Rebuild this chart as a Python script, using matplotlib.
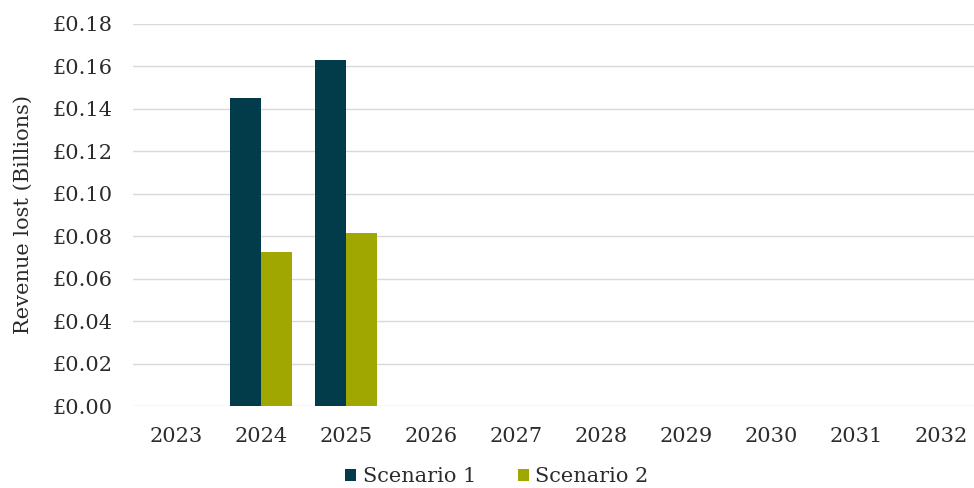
import matplotlib
matplotlib.use("Agg")
import matplotlib.pyplot as plt
import numpy as np

years = ["2023", "2024", "2025", "2026", "2027", "2028", "2029", "2030", "2031", "2032"]
scenario1 = [0, 0.145, 0.163, 0, 0, 0, 0, 0, 0, 0]
scenario2 = [0, 0.0725, 0.0815, 0, 0, 0, 0, 0, 0, 0]
yticks = [0.00, 0.02, 0.04, 0.06, 0.08, 0.10, 0.12, 0.14, 0.16, 0.18]

plt.rcParams['font.family'] = ['DejaVu Serif']
fig = plt.figure(figsize=(9.74, 4.88), dpi=100)
ax = fig.add_axes([0.137, 0.168, 0.873, 0.783])

x = np.arange(len(years))
w = 0.365
c1 = "#023B4A"
c2 = "#9FA700"
ax.bar(x - w/2, scenario1, w, color=c1, label="Scenario 1", zorder=3)
ax.bar(x + w/2, scenario2, w, color=c2, label="Scenario 2", zorder=3)

tc = "#2b2b2b"
ax.set_xlim(-0.5, len(years) - 0.5)
ax.set_ylim(0, 0.18)
ax.set_yticks(yticks)
ax.set_yticklabels([f"£{v:.2f}" for v in yticks], fontsize=15, color=tc)
ax.set_xticks(x)
ax.set_xticklabels(years, fontsize=15, color=tc)
ax.tick_params(axis='x', length=0, pad=15)
ax.tick_params(axis='y', length=0, pad=15)
ax.yaxis.grid(True, color="#d9d9d9", linewidth=1, zorder=0)
ax.set_axisbelow(True)
for s in ax.spines.values():
    s.set_visible(False)
ax.set_ylabel("Revenue lost (Billions)", fontsize=15, color=tc, labelpad=14)

leg = fig.legend(loc="lower center", bbox_to_anchor=(0.51, -0.035), ncol=2, frameon=False,
                 fontsize=15, handlelength=0.55, handleheight=0.55, handletextpad=0.3,
                 columnspacing=2.0, labelcolor=tc)
fig.savefig("out.png", dpi=100)
